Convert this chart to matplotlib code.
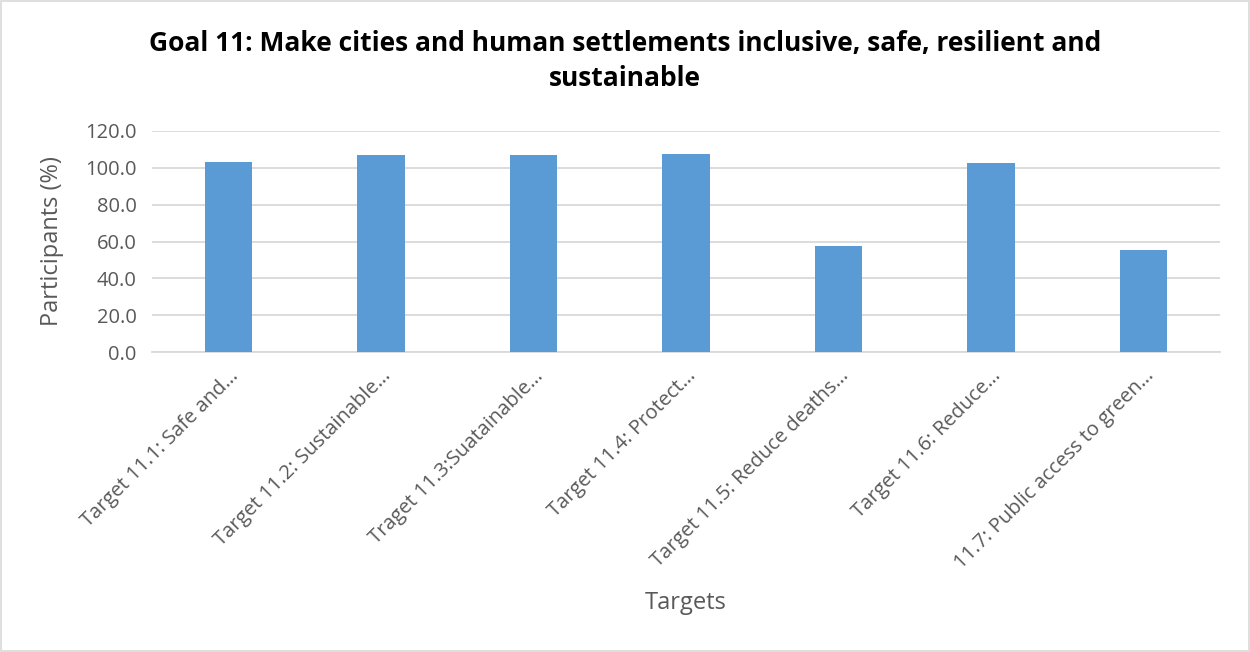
import matplotlib.pyplot as plt
import numpy as np

# data
targets = [
    "Target 11.1: Safe and…",
    "Target 11.2: Sustainable…",
    "Traget 11.3:Suatainable…",
    "Target 11.4: Protect…",
    "Target 11.5: Reduce deaths…",
    "Target 11.6: Reduce…",
    "11.7: Public access to green…",
]
participants = [103.3, 106.7, 106.7, 107.6, 57.7, 102.5, 55.2]
yticks = [0, 20, 40, 60, 80, 100, 120]

plt.rcParams['font.family'] = ['Open Sans', 'DejaVu Sans']
grey = '#595959'

fig = plt.figure(figsize=(12.5, 6.52), dpi=100)
ax = fig.add_axes([152/1250, 1-352/652, (1220-152)/1250, (352-131)/652])

x = np.arange(len(targets))
ax.bar(x, participants, width=0.31, color='#5b9bd5', zorder=3)

ax.set_xlim(-0.5, len(targets)-0.5)
ax.set_ylim(0, 120)
ax.set_yticks(yticks)
ax.set_yticklabels(['%.1f' % v for v in yticks])
ax.yaxis.grid(True, color='#d9d9d9', linewidth=1.3, zorder=0)
ax.tick_params(axis='both', length=0, labelsize=14.5, labelcolor=grey)
ax.tick_params(axis='y', pad=11)
for s in ['top', 'right', 'left']:
    ax.spines[s].set_visible(False)
ax.spines['bottom'].set_color('#d9d9d9')
ax.spines['bottom'].set_linewidth(1.3)

ax.set_xticks(x)
ax.set_xticklabels(targets, rotation=45, ha='right', rotation_mode='anchor')
ax.tick_params(axis='x', pad=10)

ax.set_ylabel('Participants (%)', fontsize=17, color=grey, labelpad=15)
fig.text(686/1250, 1-603/652, 'Targets', fontsize=17, color=grey, ha='center', va='center')

fig.text(625/1250, 1-61/652,
         'Goal 11: Make cities and human settlements inclusive, safe, resilient and\nsustainable',
         fontsize=19, fontweight='bold', ha='center', va='center', linespacing=1.4)

# border around chart
fig.patches.append(plt.Rectangle((0.001, 0.001), 0.998, 0.997, transform=fig.transFigure,
                                 fill=False, edgecolor='#d9d9d9', linewidth=1.2))

fig.savefig('out.png', dpi=100)
